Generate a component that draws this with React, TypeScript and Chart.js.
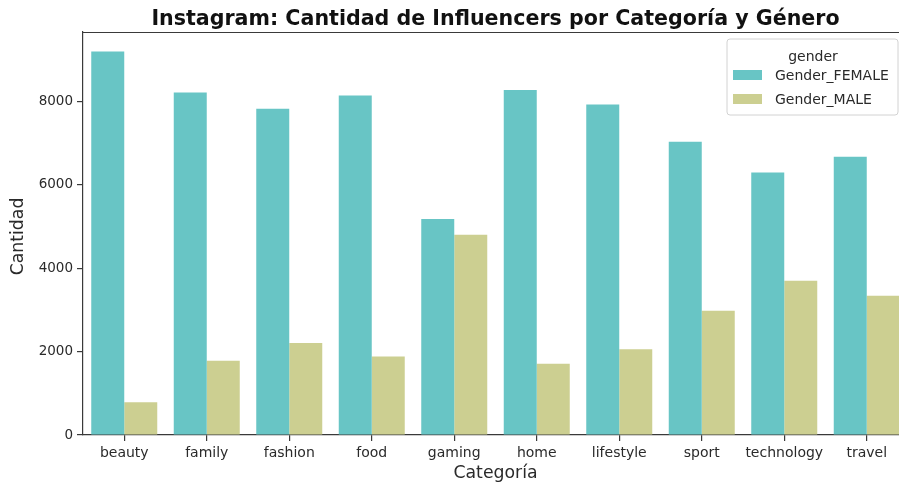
import React, { useEffect, useRef } from "react";
import { Chart, registerables } from "chart.js";

Chart.register(...registerables);

const categories = ["beauty", "family", "fashion", "food", "gaming", "home", "lifestyle", "sport", "technology", "travel"];
const femaleValues = [9190, 8210, 7820, 8140, 5180, 8270, 7920, 7030, 6290, 6670];
const maleValues = [785, 1780, 2205, 1880, 4800, 1705, 2055, 2980, 3695, 3335];
const yTickValues = [0, 2000, 4000, 6000, 8000];
const seriesLabels = ["Gender_FEMALE", "Gender_MALE"];
const legendTitle = "gender";
const chartTitle = "Instagram: Cantidad de Influencers por Categoría y Género";
const xTitle = "Categoría";
const yTitle = "Cantidad";

const FEMALE = "rgb(104,197,197)";
const MALE = "rgb(204,207,145)";
const FONT = "'DejaVu Sans', sans-serif";
const AXIS = "#3a3a3a";
const TEXT = "#2a2a2a";

const overlay = {
  id: "overlay",
  afterDraw(chart: any) {
    const ctx = chart.ctx;
    const a = chart.chartArea;
    ctx.save();
    // top spine
    ctx.strokeStyle = AXIS;
    ctx.lineWidth = 1.2;
    ctx.beginPath();
    ctx.moveTo(a.left, a.top + 0.5);
    ctx.lineTo(a.right, a.top + 0.5);
    ctx.stroke();
    ctx.beginPath();
    ctx.moveTo(a.right - 0.5, a.top);
    ctx.lineTo(a.right - 0.5, a.bottom);
    ctx.stroke();

    // title
    ctx.fillStyle = "#111";
    ctx.font = `bold 20.6px ${FONT}`;
    ctx.textAlign = "center";
    ctx.textBaseline = "middle";
    ctx.fillText(chartTitle, (a.left + a.right) / 2, 20);

    // axis titles
    ctx.fillStyle = TEXT;
    ctx.font = `17.3px ${FONT}`;
    ctx.fillText(xTitle, (a.left + a.right) / 2, 474);
    ctx.save();
    ctx.translate(19, (a.top + a.bottom) / 2 + 3);
    ctx.rotate(-Math.PI / 2);
    ctx.fillText(yTitle, 0, 0);
    ctx.restore();

    // legend
    const lx = 727, ly = 39, lw = 171, lh = 76, r = 3;
    ctx.beginPath();
    ctx.moveTo(lx + r, ly);
    ctx.lineTo(lx + lw - r, ly);
    ctx.quadraticCurveTo(lx + lw, ly, lx + lw, ly + r);
    ctx.lineTo(lx + lw, ly + lh - r);
    ctx.quadraticCurveTo(lx + lw, ly + lh, lx + lw - r, ly + lh);
    ctx.lineTo(lx + r, ly + lh);
    ctx.quadraticCurveTo(lx, ly + lh, lx, ly + lh - r);
    ctx.lineTo(lx, ly + r);
    ctx.quadraticCurveTo(lx, ly, lx + r, ly);
    ctx.closePath();
    ctx.fillStyle = "rgba(255,255,255,0.85)";
    ctx.fill();
    ctx.strokeStyle = "#d2d2d2";
    ctx.lineWidth = 1;
    ctx.stroke();

    ctx.fillStyle = TEXT;
    ctx.font = `14px ${FONT}`;
    ctx.textAlign = "center";
    ctx.fillText(legendTitle, 813, 57);
    const colors = [FEMALE, MALE];
    seriesLabels.forEach((lab, i) => {
      const cy = 75 + i * 24;
      ctx.fillStyle = colors[i];
      ctx.fillRect(733, cy - 5, 29, 10);
      ctx.fillStyle = TEXT;
      ctx.textAlign = "left";
      ctx.fillText(lab, 775, cy + 1);
    });
    ctx.restore();
  },
};

export default function App() {
  const ref = useRef<HTMLCanvasElement>(null);
  useEffect(() => {
    if (!ref.current) return;
    const chart = new Chart(ref.current, {
      type: "bar",
      data: {
        labels: categories,
        datasets: [
          { label: seriesLabels[0], data: femaleValues, backgroundColor: FEMALE, borderWidth: 0 },
          { label: seriesLabels[1], data: maleValues, backgroundColor: MALE, borderWidth: 0 },
        ],
      },
      options: {
        responsive: false,
        animation: false,
        devicePixelRatio: 1,
        layout: { padding: { left: 0, top: 32, right: 2, bottom: 0 } },
        plugins: { legend: { display: false }, title: { display: false }, tooltip: { enabled: false } },
        datasets: { bar: { categoryPercentage: 0.8, barPercentage: 1.0 } },
        scales: {
          x: {
            offset: true,
            grid: { display: true, drawOnChartArea: false, drawTicks: true, tickLength: 6, color: AXIS, offset: false, lineWidth: 1.2 },
            border: { display: true, color: AXIS, width: 1.2 },
            ticks: { color: TEXT, font: { family: FONT, size: 14 }, padding: 4, maxRotation: 0, autoSkip: false },
            afterFit: (s: any) => { s.height = 51; },
          },
          y: {
            min: 0,
            max: 9660,
            grid: { display: true, drawOnChartArea: false, drawTicks: true, tickLength: 6, color: AXIS, lineWidth: 1.2 },
            border: { display: true, color: AXIS, width: 1.2 },
            ticks: {
              color: TEXT,
              font: { family: FONT, size: 13.5 },
              padding: 4,
              includeBounds: false,
              callback: (v: any) => String(v),
            },
            afterBuildTicks: (s: any) => { s.ticks = yTickValues.map((v) => ({ value: v })); },
            afterFit: (s: any) => { s.width = 83; },
          },
        },
      },
      plugins: [overlay],
    });
    return () => chart.destroy();
  }, []);
  return (
    <div style={{ position: "absolute", left: 0, top: 0, width: 899, height: 486, overflow: "hidden", background: "#fff" }}>
      <canvas ref={ref} width={910} height={486} style={{ width: 910, height: 486, display: "block" }} />
    </div>
  );
}
